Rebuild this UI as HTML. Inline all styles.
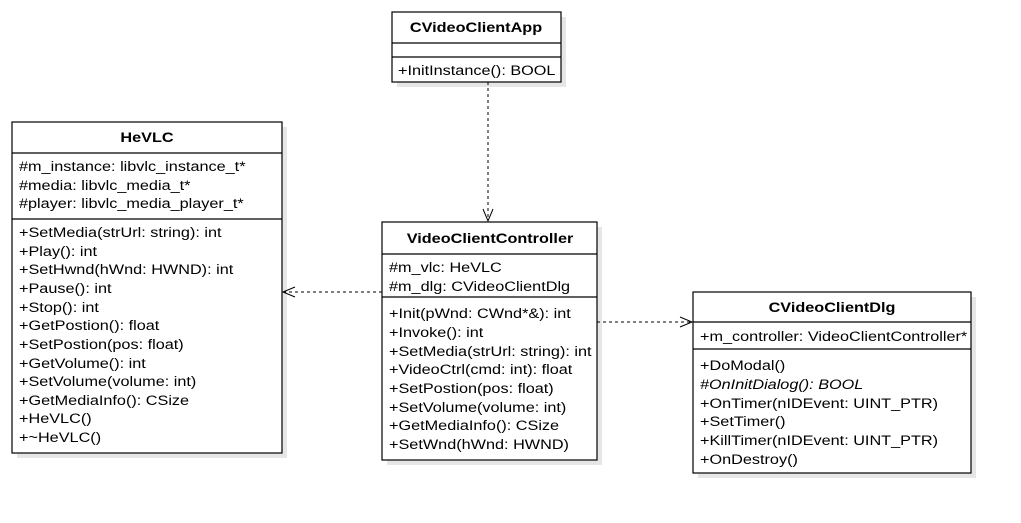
<!DOCTYPE html>
<html><head><meta charset="utf-8"><style>
html,body{margin:0;padding:0;background:#fff;}
svg{display:block;}
text{font-family:"Liberation Sans",Arial,sans-serif;font-size:14px;fill:#000;}
.t{font-weight:bold;text-anchor:middle;}
</style></head><body>
<svg width="1021" height="523" viewBox="0 0 1021 523" xmlns="http://www.w3.org/2000/svg">
<g fill="#e6e6e6">
<rect x="397" y="17" width="169" height="70"/>
<rect x="17" y="127" width="270" height="331"/>
<rect x="387" y="227" width="215" height="238"/>
<rect x="698" y="297" width="278" height="181"/>
</g>
<g fill="#fff" stroke="#000" stroke-width="1.2">
<rect x="392" y="12" width="169" height="70"/>
<line x1="392" y1="43" x2="561" y2="43"/>
<line x1="392" y1="57" x2="561" y2="57"/>
<rect x="12" y="122" width="270" height="331"/>
<line x1="12" y1="153" x2="282" y2="153"/>
<line x1="12" y1="219" x2="282" y2="219"/>
<rect x="382" y="222" width="215" height="238"/>
<line x1="382" y1="254" x2="597" y2="254"/>
<line x1="382" y1="297" x2="597" y2="297"/>
<rect x="693" y="292" width="278" height="181"/>
<line x1="693" y1="322" x2="971" y2="322"/>
<line x1="693" y1="349" x2="971" y2="349"/>
</g>
<g stroke="#000" stroke-width="1" fill="none" stroke-dasharray="3,3">
<line x1="488" y1="82" x2="488" y2="221"/>
<line x1="382" y1="292" x2="284" y2="292"/>
<line x1="597" y1="322" x2="691" y2="322"/>
</g>
<g stroke="#000" stroke-width="1" fill="none">
<polyline points="483,209 488,221 493,209"/>
<polyline points="295,287 283,292 295,297"/>
<polyline points="680,317 692,322 680,327"/>
</g>
<g transform="translate(476 0) scale(1.16 1)"><text class="t" x="0" y="32">CVideoClientApp</text></g>
<g transform="translate(398 0) scale(1.16 1)"><text x="0" y="75">+InitInstance(): BOOL</text></g>

<g transform="translate(147 0) scale(1.16 1)"><text class="t" x="0" y="142">HeVLC</text></g>
<g transform="translate(19 0) scale(1.16 1)">
<text x="0" y="171">#m_instance: libvlc_instance_t*</text>
<text x="0" y="190">#media: libvlc_media_t*</text>
<text x="0" y="208">#player: libvlc_media_player_t*</text>
<text x="0" y="237">+SetMedia(strUrl: string): int</text>
<text x="0" y="256">+Play(): int</text>
<text x="0" y="274">+SetHwnd(hWnd: HWND): int</text>
<text x="0" y="293">+Pause(): int</text>
<text x="0" y="312">+Stop(): int</text>
<text x="0" y="330">+GetPostion(): float</text>
<text x="0" y="349">+SetPostion(pos: float)</text>
<text x="0" y="368">+GetVolume(): int</text>
<text x="0" y="386">+SetVolume(volume: int)</text>
<text x="0" y="405">+GetMediaInfo(): CSize</text>
<text x="0" y="423">+HeVLC()</text>
<text x="0" y="442">+~HeVLC()</text>
</g>

<g transform="translate(490 0) scale(1.16 1)"><text class="t" x="0" y="243">VideoClientController</text></g>
<g transform="translate(389 0) scale(1.16 1)">
<text x="0" y="272">#m_vlc: HeVLC</text>
<text x="0" y="291">#m_dlg: CVideoClientDlg</text>
<text x="0" y="318">+Init(pWnd: CWnd*&amp;): int</text>
<text x="0" y="337">+Invoke(): int</text>
<text x="0" y="356">+SetMedia(strUrl: string): int</text>
<text x="0" y="374">+VideoCtrl(cmd: int): float</text>
<text x="0" y="393">+SetPostion(pos: float)</text>
<text x="0" y="412">+SetVolume(volume: int)</text>
<text x="0" y="430">+GetMediaInfo(): CSize</text>
<text x="0" y="449">+SetWnd(hWnd: HWND)</text>
</g>

<g transform="translate(832 0) scale(1.16 1)"><text class="t" x="0" y="312">CVideoClientDlg</text></g>
<g transform="translate(700 0) scale(1.16 1)">
<text x="0" y="341">+m_controller: VideoClientController*</text>
<text x="0" y="370">+DoModal()</text>
<text x="0" y="389" font-style="italic">#OnInitDialog(): BOOL</text>
<text x="0" y="408">+OnTimer(nIDEvent: UINT_PTR)</text>
<text x="0" y="426">+SetTimer()</text>
<text x="0" y="445">+KillTimer(nIDEvent: UINT_PTR)</text>
<text x="0" y="464">+OnDestroy()</text>
</g>
</svg>
</body></html>
